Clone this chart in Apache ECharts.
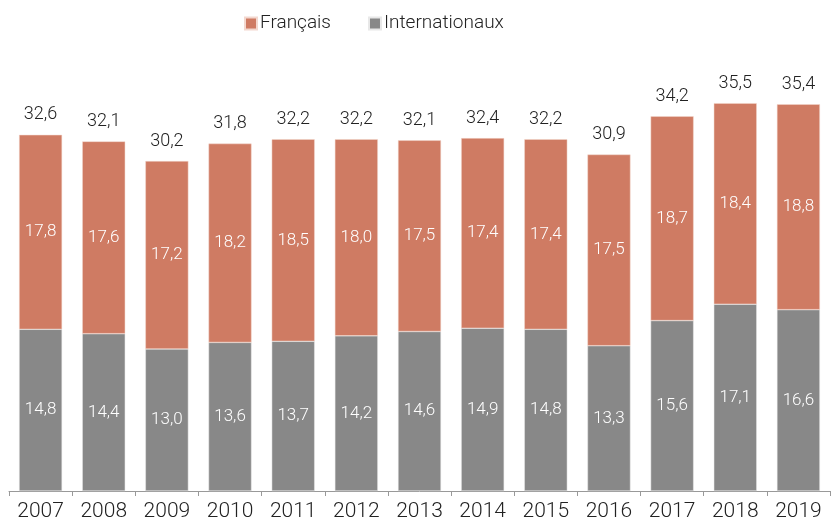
<!DOCTYPE html>
<html>
<head>
<meta charset="utf-8">
<script src="https://cdn.jsdelivr.net/npm/echarts@6/dist/echarts.min.js"></script>
<style>
  html, body { margin: 0; padding: 0; background: #fff; }
  #chart { width: 833px; height: 523px; }
</style>
</head>
<body>
<div id="chart"></div>
<script>
const years = ['2007', '2008', '2009', '2010', '2011', '2012', '2013', '2014', '2015', '2016', '2017', '2018', '2019']
const internationaux = [14.8, 14.4, 13.0, 13.6, 13.7, 14.2, 14.6, 14.9, 14.8, 13.3, 15.6, 17.1, 16.6]
const francais = [17.8, 17.6, 17.2, 18.2, 18.5, 18.0, 17.5, 17.4, 17.4, 17.5, 18.7, 18.4, 18.8]
const totals = [32.6, 32.1, 30.2, 31.8, 32.2, 32.2, 32.1, 32.4, 32.2, 30.9, 34.2, 35.5, 35.4]

const FONT = 'Roboto'
const fmt = (v) => v.toFixed(1).replace('.', ',')

const chart = echarts.init(document.getElementById('chart'))

// libellés blancs au centre des segments
const inside = {
	show: true,
	position: 'inside',
	color: '#fff',
	fontFamily: FONT,
	fontWeight: 300,
	fontSize: 17,
	formatter: (p) => fmt(p.value)
}

chart.setOption({
	animation: false,
	legend: {
		data: ['Français', 'Internationaux'],
		top: 9,
		left: 239,
		itemWidth: 12,
		itemHeight: 12,
		itemGap: 37,
		icon: 'rect',
		textStyle: { fontFamily: FONT, fontWeight: 300, fontSize: 19, color: '#222', padding: [0, 0, 0, -2] }
	},
	grid: { left: 9, right: 3, top: 54, bottom: 32 },
	xAxis: {
		type: 'category',
		data: years,
		axisLine: { lineStyle: { color: '#999' } },
		axisTick: { show: true, length: 5, inside: false, lineStyle: { color: '#999' } },
		axisLabel: { color: '#222', fontFamily: FONT, fontWeight: 300, fontSize: 21, margin: 10 }
	},
	yAxis: {
		type: 'value',
		min: 0,
		max: 40,
		show: false,
		splitLine: { show: false }
	},
	series: [
		{
			name: 'Internationaux',
			type: 'bar',
			stack: 'total',
			barWidth: 43,
			data: internationaux,
			itemStyle: { color: '#888888', borderColor: '#e8e8e8', borderWidth: 0.5 },
			label: inside
		},
		{
			name: 'Français',
			type: 'bar',
			stack: 'total',
			barWidth: 43,
			data: francais,
			itemStyle: { color: '#cf7b63', borderColor: '#f3d8cf', borderWidth: 0.5 },
			label: inside
		},
		{
			// série vide pour afficher les totaux au-dessus des barres
			name: 'Total',
			type: 'bar',
			stack: 'total',
			barWidth: 43,
			data: totals.map(() => 0),
			itemStyle: { color: 'transparent' },
			label: {
				show: true,
				position: 'top',
				distance: 11,
				color: '#222',
				fontFamily: FONT,
				fontWeight: 300,
				fontSize: 18,
				formatter: (p) => fmt(totals[p.dataIndex])
			}
		}
	]
})
</script>
</body>
</html>
